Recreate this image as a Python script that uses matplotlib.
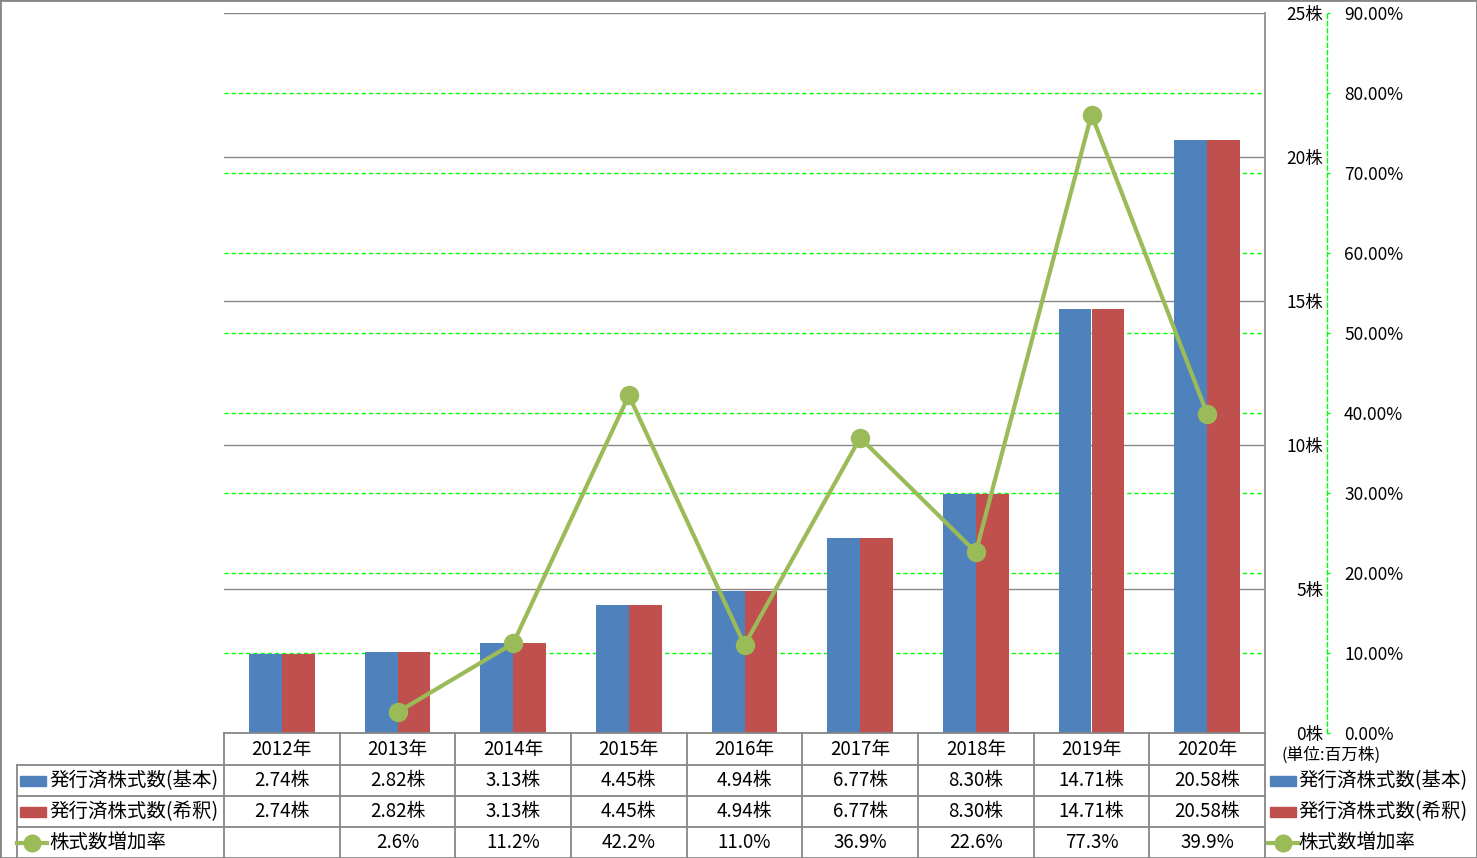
"""
発行済株式数と株式数増加率 (2012-2020) の棒グラフ + 折れ線 + データテーブル
"""
import matplotlib
matplotlib.use('Agg')
import matplotlib.pyplot as plt
import matplotlib.transforms as mtransforms
from matplotlib.lines import Line2D
from matplotlib.patches import Rectangle
from matplotlib.ticker import FuncFormatter, FixedLocator

plt.rcParams['font.family'] = ['Noto Sans CJK JP', 'DejaVu Sans']

# data
years = ['2012年', '2013年', '2014年', '2015年', '2016年',
         '2017年', '2018年', '2019年', '2020年']
shares_basic = [2.74, 2.82, 3.13, 4.45, 4.94, 6.77, 8.30, 14.71, 20.58]
shares_diluted = [2.74, 2.82, 3.13, 4.45, 4.94, 6.77, 8.30, 14.71, 20.58]
growth_rate = [None, 2.6, 11.2, 42.2, 11.0, 36.9, 22.6, 77.3, 39.9]
series_names = ['発行済株式数(基本)', '発行済株式数(希釈)', '株式数増加率']
unit_label = '(単位:百万株)'
share_ticks = [0, 5, 10, 15, 20, 25]
rate_ticks = [0, 10, 20, 30, 40, 50, 60, 70, 80, 90]

BLUE = '#4F81BD'
RED = '#C0504D'
GREEN = '#9BBB59'
GRID = '#868686'
DASH = '#00FF00'

W, H = 1477, 858
PT = 72 / 100  # points per pixel at dpi 100


def fx(x):
    return x / W


def fy(y):
    return 1 - y / H


fig = plt.figure(figsize=(W / 100, H / 100), dpi=100)
ax = fig.add_axes([fx(224), fy(733), fx(1265) - fx(224), fy(13) - fy(733)])
ax2 = ax.twinx()

n = len(years)
xs = list(range(n))
bw = 0.285

# bars
ax.bar([x - bw / 2 for x in xs], shares_basic, width=bw, color=BLUE, zorder=3)
ax.bar([x + bw / 2 for x in xs], shares_diluted, width=bw, color=RED, zorder=3)
ax.set_xlim(-0.5, n - 0.5)
ax.set_ylim(0, 25)
ax.set_xticks([])

# primary axis: labels right of the plot, right-aligned
ax.yaxis.tick_right()
ax.yaxis.set_major_locator(FixedLocator(share_ticks))
ax.yaxis.set_major_formatter(FuncFormatter(lambda v, p: f'{v:.0f}株'))
ax.tick_params(axis='y', length=0, pad=58 * PT, labelsize=12.5)
for lab in ax.get_yticklabels():
    lab.set_horizontalalignment('right')
ax.grid(axis='y', color=GRID, lw=1, zorder=1)
ax.set_axisbelow(True)
for s in ['left', 'top', 'bottom']:
    ax.spines[s].set_visible(False)
ax.spines['right'].set_color(GRID)
ax.spines['right'].set_linewidth(1.2)

# secondary axis: growth rate
ax2.set_ylim(0, 90)
ax2.yaxis.set_major_locator(FixedLocator(rate_ticks))
ax2.yaxis.set_major_formatter(FuncFormatter(lambda v, p: f'{v:.2f}%'))
ax2.tick_params(axis='y', length=3 * PT, width=1, color=DASH, direction='out',
                pad=14 * PT, labelsize=12.5)
for s in ['left', 'top', 'bottom']:
    ax2.spines[s].set_visible(False)
ax2.spines['right'].set_position(('outward', 62 * PT))
ax2.spines['right'].set_color(DASH)
ax2.spines['right'].set_linestyle((0, (3, 2.2)))
ax2.spines['right'].set_linewidth(1)

# green dashed gridlines for the rate axis, drawn behind the bars
grid_tr = mtransforms.blended_transform_factory(ax.transAxes, ax2.transData)
for t in rate_ticks[1:-1]:
    ax.add_line(Line2D([0, 1], [t, t], transform=grid_tr, color=DASH,
                       lw=1, ls=(0, (3, 2.2)), zorder=1.5))

rx = [x for x, r in zip(xs, growth_rate) if r is not None]
ry = [r for r in growth_rate if r is not None]
ax2.plot(rx, ry, color=GREEN, lw=3, marker='o', markersize=13, zorder=4)

# data table below the plot
col_tr = mtransforms.blended_transform_factory(ax.transData, fig.transFigure)
rows_y = [733, 765, 796, 827, 858]


def fig_line(x0, y0, x1, y1):
    fig.add_artist(Line2D([fx(x0), fx(x1)], [fy(y0), fy(y1)],
                          transform=fig.transFigure, color=GRID, lw=1.3))


fig_line(224, 733, 1265, 733)
for y in rows_y[1:4]:
    fig_line(17, y, 1265, y)
fig_line(17, 765, 17, 858)
for k in range(n + 1):
    fig.add_artist(Line2D([k - 0.5, k - 0.5], [fy(733), fy(858)],
                          transform=col_tr, color=GRID, lw=1.3))

fs = 13.5
row_mid = [(rows_y[i] + rows_y[i + 1]) / 2 for i in range(4)]
for i in xs:
    fig.text(i, fy(row_mid[0]), years[i], transform=col_tr,
             ha='center', va='center', fontsize=fs)
    fig.text(i, fy(row_mid[1]), f'{shares_basic[i]:.2f}株', transform=col_tr,
             ha='center', va='center', fontsize=fs)
    fig.text(i, fy(row_mid[2]), f'{shares_diluted[i]:.2f}株', transform=col_tr,
             ha='center', va='center', fontsize=fs)
    if growth_rate[i] is not None:
        fig.text(i, fy(row_mid[3]), f'{growth_rate[i]:.1f}%', transform=col_tr,
                 ha='center', va='center', fontsize=fs)


def legend_key(x, ymid, kind, color):
    if kind == 'bar':
        fig.add_artist(Rectangle((fx(x), fy(ymid + 5)), fx(26), 10 / H,
                                 transform=fig.transFigure, color=color))
    else:
        fig.add_artist(Line2D([fx(x), fx(x + 30)], [fy(ymid), fy(ymid)],
                              transform=fig.transFigure, color=color, lw=3))
        fig.add_artist(Line2D([fx(x + 15)], [fy(ymid)],
                              transform=fig.transFigure, color=color,
                              marker='o', markersize=12))


kinds = ['bar', 'bar', 'line']
colors = [BLUE, RED, GREEN]
for j in range(3):
    ym = row_mid[j + 1]
    # left row header
    legend_key(20 if kinds[j] == 'bar' else 17, ym, kinds[j], colors[j])
    fig.text(fx(49), fy(ym), series_names[j], ha='left', va='center',
             fontsize=14)
    # right legend
    legend_key(1270 if kinds[j] == 'bar' else 1268, ym, kinds[j], colors[j])
    fig.text(fx(1298), fy(ym), series_names[j], ha='left', va='center',
             fontsize=14)

fig.text(fx(1331), fy(755), unit_label, ha='center', va='center', fontsize=12)

# outer frame
fig.add_artist(Rectangle((0, 0), 1, 1, transform=fig.transFigure,
                         fill=False, edgecolor=GRID, lw=2))

fig.savefig('out.png', dpi=100)
